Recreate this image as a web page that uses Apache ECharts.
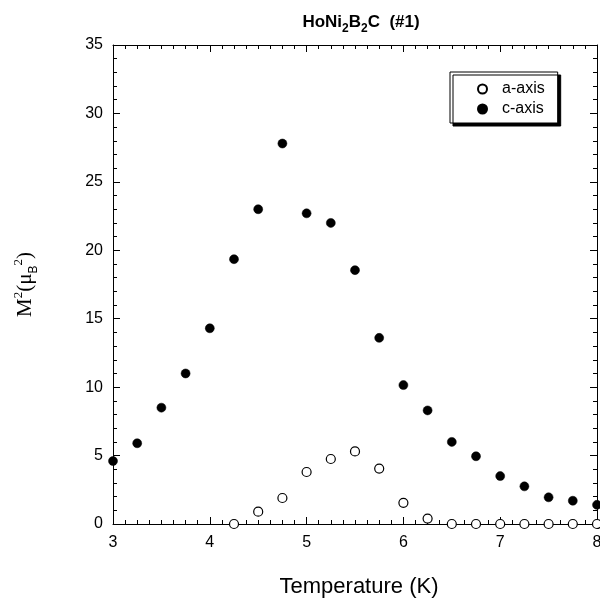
<!DOCTYPE html>
<html><head><meta charset="utf-8">
<script src="https://cdn.jsdelivr.net/npm/echarts@6/dist/echarts.min.js"></script>
<style>html,body{margin:0;padding:0;background:#fff;overflow:hidden}#c{width:600px;height:601px}</style>
</head><body><div id="c"></div>
<script>
const temps = [3.0,3.25,3.5,3.75,4.0,4.25,4.5,4.75,5.0,5.25,5.5,5.75,6.0,6.25,6.5,6.75,7.0,7.25,7.5,7.75,8.0];
const cAxis = [4.6,5.9,8.5,11.0,14.3,19.35,23.0,27.8,22.7,22.0,18.55,13.6,10.15,8.3,6.0,4.95,3.5,2.75,1.95,1.7,1.4];
const aTemps = [4.25,4.5,4.75,5.0,5.25,5.5,5.75,6.0,6.25,6.5,6.75,7.0,7.25,7.5,7.75,8.0];
const aAxis = [0,0.9,1.9,3.8,4.75,5.3,4.05,1.55,0.4,0,0,0,0,0,0,0];
const seriesNames = ['a-axis','c-axis'];
const xRange = [3,8], yRange = [0,35];

const chart = echarts.init(document.getElementById('c'));
const axisLine = {show:true, onZero:false, lineStyle:{color:'#000', width:1}};
const tickStyle = {color:'#000', width:1};
function xa(pos, labels){
  return {type:'value', position:pos, min:xRange[0], max:xRange[1], interval:1,
    axisLine, axisTick:{show:true, inside:true, length:7, lineStyle:tickStyle},
    minorTick:{show:true, splitNumber:8, length:4, lineStyle:tickStyle},
    splitLine:{show:false}, minorSplitLine:{show:false},
    axisLabel:{show:labels, color:'#000', fontSize:16, fontFamily:'Liberation Sans, Arial', margin:11},
    name: labels ? 'Temperature (K)' : '', nameLocation:'middle', nameGap:52,
    nameTextStyle:{color:'#000', fontSize:22, fontFamily:'Liberation Sans, Arial', padding:[0,0,0,8]}};
}
function ya(pos, labels){
  return {type:'value', position:pos, min:yRange[0], max:yRange[1], interval:5,
    axisLine, axisTick:{show:true, inside:true, length:7, lineStyle:tickStyle},
    minorTick:{show:true, splitNumber:5, length:4, lineStyle:tickStyle},
    splitLine:{show:false}, minorSplitLine:{show:false},
    axisLabel:{show:labels, color:'#000', fontSize:16, fontFamily:'Liberation Sans, Arial', margin:10},
    name: labels ? '{m|M}{sup|2}{m|(μ}{sub|B}{sup2|2}{m|)}' : '', nameLocation:'middle', nameGap:77, nameRotate:90,
    nameTextStyle:{color:'#000', fontFamily:'Liberation Serif, Times New Roman, serif',
      rich:{
        m:{fontSize:21, fontFamily:'Liberation Serif, serif', color:'#000', lineHeight:24, verticalAlign:'bottom'},
        sup:{fontSize:13, fontFamily:'Liberation Serif, serif', color:'#000', lineHeight:14, verticalAlign:'bottom', padding:[0,0,11,0]},
        sub:{fontSize:12, fontFamily:'Liberation Sans, Arial', color:'#000', lineHeight:12, verticalAlign:'bottom', padding:[0,0,-4,0]},
        sup2:{fontSize:13, fontFamily:'Liberation Serif, serif', color:'#000', lineHeight:14, verticalAlign:'bottom', padding:[0,0,11,0]}
      }}};
}
chart.setOption({
  animation:false,
  backgroundColor:'#fff',
  title:{text:'{b|HoNi}{s|2}{b|B}{s|2}{b|C  (#1)}', left:356, textAlign:'center', top:9,
    textStyle:{rich:{
      b:{fontSize:17, fontWeight:'bold', fontFamily:'Liberation Sans, Arial', color:'#000', lineHeight:19, verticalAlign:'top'},
      s:{fontSize:12, fontWeight:'bold', fontFamily:'Liberation Sans, Arial', color:'#000', lineHeight:12, verticalAlign:'top', padding:[9,0,0,0]}
    }}},
  grid:{left:113, right:3, top:45, bottom:77, containLabel:false, outerBoundsMode:'none'},
  legend:{data:seriesNames, orient:'vertical', left:450, top:72,
    itemWidth:9, itemHeight:9, itemGap:4,
    padding:[9,13,6,27],
    backgroundColor:'#fff', borderColor:'#000', borderWidth:1,
    shadowColor:'#000', shadowBlur:0, shadowOffsetX:3, shadowOffsetY:3,
    textStyle:{color:'#000', fontSize:16, fontFamily:'Liberation Sans, Arial', padding:[0,0,0,10]}},
  xAxis:[xa('bottom', true), xa('top', false)],
  yAxis:[ya('left', true), ya('right', false)],
  series:[
    {name:seriesNames[0], type:'scatter', symbol:'circle', symbolSize:9, z:3,
      itemStyle:{color:'#fff', borderColor:'#000', borderWidth:1.2, opacity:1},
      data: aTemps.map((t,i)=>[t,aAxis[i]])},
    {name:seriesNames[1], type:'scatter', symbol:'circle', symbolSize:9, z:4,
      itemStyle:{color:'#000', borderColor:'#000', borderWidth:0.5, opacity:1},
      data: temps.map((t,i)=>[t,cAxis[i]])}
  ]
});
</script></body></html>
